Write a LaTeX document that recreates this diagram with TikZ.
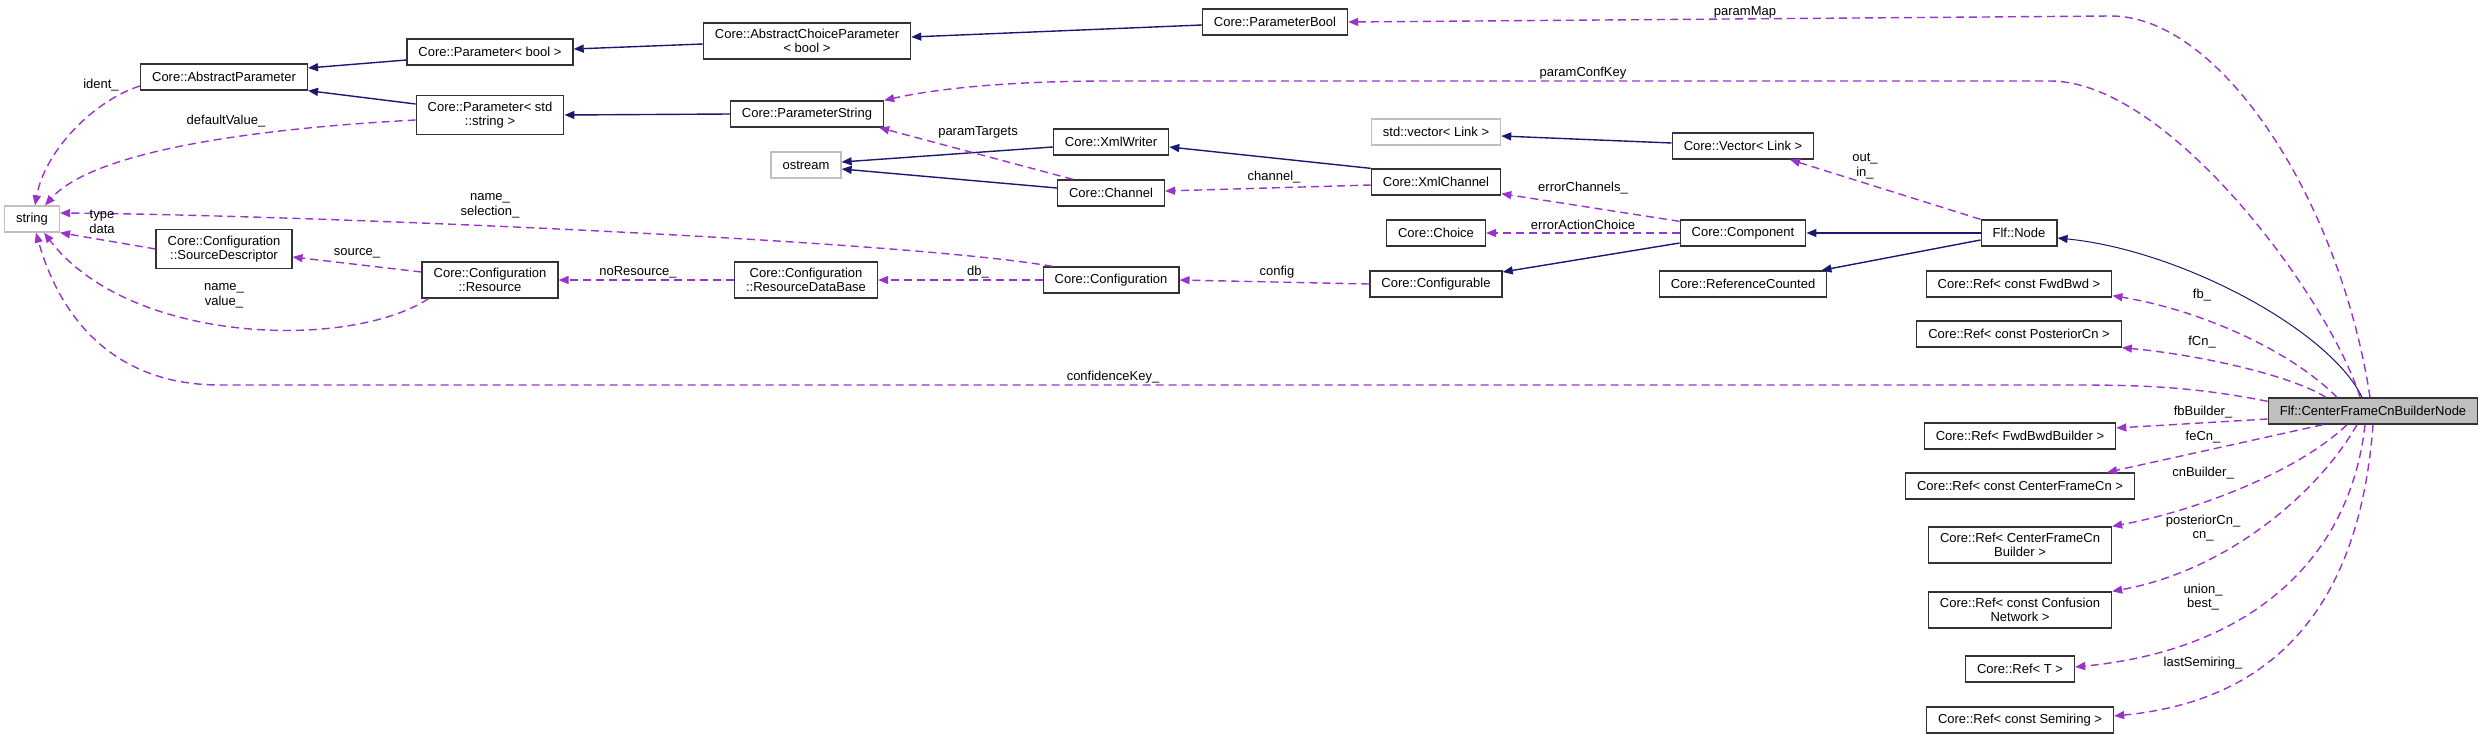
\documentclass[tikz,border=0pt]{standalone}
\usepackage{fontspec}
\setmainfont{Liberation Sans}
\usetikzlibrary{arrows.meta}
\definecolor{inhblue}{RGB}{25,25,112}
\definecolor{usepurple}{RGB}{154,50,205}
\definecolor{extgray}{RGB}{191,191,191}

\begin{document}
\begin{tikzpicture}[x=1pt,y=-1pt,
  font=\fontsize{13}{14.5}\selectfont,
  cls/.style={draw=black!80, line width=1.3pt, fill=white, inner xsep=11.5pt, inner ysep=6pt, minimum height=26pt, align=center},
  extcls/.style={cls, draw=extgray},
  focus/.style={cls, fill=extgray},
  inh/.style={draw=inhblue, line width=1.4pt, -{Triangle[length=10pt,width=8pt]}},
  use/.style={draw=usepurple, line width=1.4pt, dash pattern=on 8pt off 5pt, -{Triangle[length=10pt,width=8pt]}},
  lbl/.style={inner sep=0pt, align=center}]
\useasboundingbox (0,0) rectangle (2483,739);

% Classes
\node[extcls] (str) at (32,219) {string};
\node[cls] (absp) at (224,77) {Core::AbstractParameter};
\node[cls] (parb) at (490,52) {Core::Parameter< bool >};
\node[cls] (pars) at (490,115) {Core::Parameter< std\\::string >};
\node[cls] (srcd) at (224,249) {Core::Configuration\\::SourceDescriptor};
\node[cls] (res) at (490,280) {Core::Configuration\\::Resource};
\node[cls] (acp) at (807,41) {Core::AbstractChoiceParameter\\< bool >};
\node[cls] (pbool) at (1275,22) {Core::ParameterBool};
\node[cls] (pstr) at (807,114) {Core::ParameterString};
\node[extcls] (ostr) at (806,165) {ostream};
\node[cls] (xmlw) at (1111,142) {Core::XmlWriter};
\node[cls] (chan) at (1111,193) {Core::Channel};
\node[cls] (rdb) at (806,280) {Core::Configuration\\::ResourceDataBase};
\node[cls] (conf) at (1111,280) {Core::Configuration};
\node[extcls] (svec) at (1436,132) {std::vector< Link >};
\node[cls] (xmlc) at (1436,182) {Core::XmlChannel};
\node[cls] (choice) at (1436,233) {Core::Choice};
\node[cls] (cfgb) at (1436,284) {Core::Configurable};
\node[cls] (cvec) at (1743,146) {Core::Vector< Link >};
\node[cls] (comp) at (1743,233) {Core::Component};
\node[cls] (fnode) at (2019,233) {Flf::Node};
\node[cls] (refc) at (1743,284) {Core::ReferenceCounted};
\node[cls] (rfb) at (2019,284) {Core::Ref< const FwdBwd >};
\node[cls] (rpcn) at (2019,334) {Core::Ref< const PosteriorCn >};
\node[focus] (cfcb) at (2373,411) {Flf::CenterFrameCnBuilderNode};
\node[cls] (rfbb) at (2020,436) {Core::Ref< FwdBwdBuilder >};
\node[cls] (rcfc) at (2020,486) {Core::Ref< const CenterFrameCn >};
\node[cls] (rcfcb) at (2020,545) {Core::Ref< CenterFrameCn\\Builder >};
\node[cls] (rcn) at (2020,610) {Core::Ref< const Confusion\\Network >};
\node[cls] (rt) at (2020,669) {Core::Ref< T >};
\node[cls] (rsr) at (2020,720) {Core::Ref< const Semiring >};

% Inheritance
\draw[inh] ([yshift=-8pt]parb.west) -- ([yshift=9pt]absp.east);
\draw[inh] ([yshift=11pt]pars.west) -- (absp.south east);
\draw[inh] ([yshift=-3pt]acp.west) -- ([yshift=3pt]parb.east);
\draw[inh] ([yshift=-3pt]pbool.west) -- ([yshift=4pt]acp.east);
\draw[inh] (pstr.west) -- (pars.east);
\draw[inh] ([yshift=-5pt]xmlw.west) -- ([yshift=3pt]ostr.east);
\draw[inh] ([yshift=5pt]chan.west) -- ([yshift=-4pt]ostr.east);
\draw[inh] (xmlc.north west) -- ([yshift=-5pt]xmlw.east);
\draw[inh] ([yshift=3pt]cvec.west) -- ([yshift=-4pt]svec.east);
\draw[inh] ([yshift=-10pt]comp.west) -- ([yshift=12pt]cfgb.east);
\draw[inh] (fnode.west) -- (comp.east);
\draw[inh] ([yshift=-7pt]fnode.west) -- ([xshift=-6pt]refc.north east);
\draw[inh, line width=1pt] ([xshift=-11pt]cfcb.north) .. controls (2330,330) and (2180,250) .. ([yshift=-5pt]fnode.east);

% Members
\draw[use] ([yshift=-9pt]absp.west) .. controls (95,100) and (45,150) .. ([xshift=3pt]str.north);
\draw[use] ([yshift=-5pt]pars.west) .. controls (230,130) and (90,155) .. ([xshift=13pt]str.north);
\draw[use] ([xshift=10pt]conf.north west) .. controls (900,240) and (300,215) .. ([yshift=6pt]str.east);
\draw[use] (srcd.west) -- (str.south east);
\draw[use] ([xshift=7pt]res.south west) .. controls (350,350) and (130,345) .. ([xshift=12pt]str.south);
\draw[use] ([yshift=-4pt]cfcb.north west) .. controls (2200,388) and (2150,385) .. (2080,385) -- (220,385) .. controls (100,385) and (55,300) .. ([xshift=4pt]str.south);
\draw[use] ([yshift=8pt]res.west) -- ([yshift=-8pt]srcd.east);
\draw[use] (rdb.west) -- (res.east);
\draw[use] (conf.west) -- (rdb.east);
\draw[use] (cfgb.west) -- (conf.east);
\draw[use] ([xshift=-38pt]chan.north) -- ([xshift=-5pt]pstr.south east);
\draw[use] ([yshift=-3pt]xmlc.west) -- ([yshift=2pt]chan.east);
\draw[use] ([yshift=-2pt]comp.north west) -- ([yshift=2pt]xmlc.south east);
\draw[use] (comp.west) -- (choice.east);
\draw[use] (fnode.north west) -- ([xshift=47pt]cvec.south);
\draw[use] ([xshift=-3pt]cfcb.north) .. controls (2340,200) and (2220,15) .. (2110,16) -- (pbool.east);
\draw[use] ([xshift=-13pt]cfcb.north) .. controls (2330,300) and (2170,81) .. (2050,81) -- (1110,81) .. controls (1000,81) and (930,90) .. (pstr.north east);
\draw[use] ([xshift=-36pt]cfcb.north) .. controls (2290,350) and (2200,310) .. ([yshift=2pt]rfb.south east);
\draw[use] ([xshift=-47pt]cfcb.north) .. controls (2290,375) and (2200,355) .. (rpcn.south east);
\draw[use] ([yshift=-8pt]cfcb.west) -- ([yshift=8pt]rfbb.east);
\draw[use] ([xshift=-50pt]cfcb.south) -- ([xshift=-28pt]rcfc.north east);
\draw[use] ([xshift=-26pt]cfcb.south) .. controls (2300,470) and (2200,510) .. (rcfcb.north east);
\draw[use] ([xshift=-16pt]cfcb.south) .. controls (2320,490) and (2230,570) .. (rcn.north east);
\draw[use] ([xshift=-8pt]cfcb.south) .. controls (2350,560) and (2250,650) .. ([yshift=2pt]rt.east);
\draw[use] (cfcb.south) .. controls (2360,600) and (2280,700) .. ([yshift=4pt]rsr.east);

% Member names
\node[lbl] (lident) at (101,85) {ident\_};
\node[lbl] (ldefval) at (226,121) {defaultValue\_};
\node[lbl] (lnamesel) at (490,206) {name\_\\selection\_};
\node[lbl] (ltype) at (102,222) {type\\data};
\node[lbl] (lnameval) at (224,296) {name\_\\value\_};
\node[lbl] (lconfkey) at (1113,377) {confidenceKey\_};
\node[lbl] (lsource) at (357,253) {source\_};
\node[lbl] (lnores) at (638,272) {noResource\_};
\node[lbl] (ldb) at (978,272) {db\_};
\node[lbl] (lconfig) at (1277,272) {config};
\node[lbl] (ltargets) at (978,132) {paramTargets};
\node[lbl] (lchannel) at (1274,177) {channel\_};
\node[lbl] (lerrch) at (1583,188) {errorChannels\_};
\node[lbl] (lerrac) at (1583,225) {errorActionChoice};
\node[lbl] (loutin) at (1865,166) {out\_\\in\_};
\node[lbl] (lmap) at (1745,12) {paramMap};
\node[lbl] (lconfkey2) at (1583,73) {paramConfKey};
\node[lbl] (lfb) at (2202,295) {fb\_};
\node[lbl] (lfcn) at (2202,342) {fCn\_};
\node[lbl] (lfbb) at (2203,412) {fbBuilder\_};
\node[lbl] (lfecn) at (2203,437) {feCn\_};
\node[lbl] (lcnb) at (2203,473) {cnBuilder\_};
\node[lbl] (lpost) at (2203,528) {posteriorCn\_\\cn\_};
\node[lbl] (lunion) at (2203,597) {union\_\\best\_};
\node[lbl] (llast) at (2203,663) {lastSemiring\_};
\end{tikzpicture}
\end{document}
